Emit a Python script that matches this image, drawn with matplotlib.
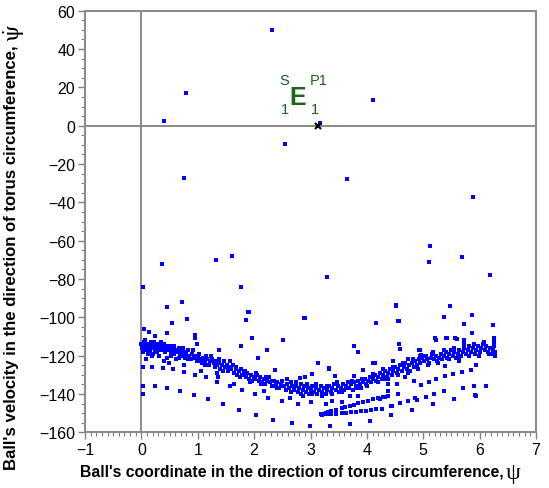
import numpy as np
import matplotlib
matplotlib.use("Agg")
import matplotlib.pyplot as plt
from matplotlib.ticker import MultipleLocator

plt.rcParams['font.family'] = ['Liberation Sans', 'DejaVu Sans']
plt.rcParams['mathtext.fontset'] = 'stix'

# dense band of the section
band = [
    (0.00, -114), (0.01, -116), (0.03, -115), (0.05, -113), (0.06, -117), (0.08, -115), (0.10, -114),
    (0.12, -116), (0.13, -118), (0.15, -115), (0.17, -113), (0.19, -116), (0.21, -119), (0.23, -115),
    (0.25, -117), (0.27, -114), (0.29, -116), (0.31, -120), (0.33, -115), (0.35, -117), (0.38, -116),
    (0.40, -114), (0.42, -118), (0.44, -116), (0.46, -121), (0.48, -117), (0.50, -115), (0.53, -118),
    (0.55, -116), (0.57, -119), (0.60, -117), (0.62, -122), (0.64, -118), (0.66, -116), (0.69, -119),
    (0.71, -117), (0.73, -120), (0.76, -118), (0.78, -121), (0.80, -119), (0.83, -117), (0.85, -120),
    (0.88, -122), (0.90, -119), (0.93, -121), (0.96, -120), (0.98, -123),
    (1.00, -121), (1.03, -119), (1.05, -122), (1.08, -124), (1.10, -121), (1.12, -123), (1.15, -120),
    (1.17, -122), (1.20, -125), (1.22, -123), (1.25, -122), (1.28, -124), (1.30, -126), (1.33, -123),
    (1.35, -125), (1.38, -124), (1.40, -127), (1.43, -125), (1.46, -123), (1.48, -126), (1.51, -125),
    (1.54, -128), (1.56, -126), (1.59, -127), (1.62, -125), (1.65, -129), (1.68, -127), (1.70, -130),
    (1.73, -128), (1.76, -127), (1.79, -130), (1.82, -129), (1.85, -131), (1.88, -129), (1.91, -132),
    (1.94, -130), (1.97, -133), (1.99, -131),
    (2.02, -132), (2.05, -130), (2.08, -133), (2.11, -131), (2.14, -134), (2.17, -132), (2.20, -135),
    (2.23, -133), (2.26, -131), (2.29, -134), (2.32, -136), (2.35, -133), (2.38, -135), (2.41, -134),
    (2.44, -137), (2.47, -135), (2.50, -133), (2.53, -136), (2.56, -138), (2.59, -135), (2.62, -137),
    (2.65, -134), (2.68, -136), (2.71, -138), (2.74, -136), (2.77, -139), (2.80, -137), (2.83, -135),
    (2.86, -138), (2.89, -136), (2.92, -139), (2.95, -137), (2.98, -140), (3.00, -138),
    (3.03, -136), (3.06, -139), (3.09, -137), (3.12, -140), (3.15, -138), (3.18, -136), (3.21, -139),
    (3.24, -137), (3.27, -140), (3.30, -138), (3.33, -136), (3.36, -139), (3.39, -137), (3.42, -135),
    (3.45, -138), (3.48, -136), (3.51, -139), (3.54, -137), (3.57, -135), (3.60, -138), (3.63, -136),
    (3.66, -134), (3.69, -137), (3.72, -135), (3.75, -138), (3.78, -134), (3.81, -136), (3.84, -133),
    (3.87, -135), (3.90, -137), (3.93, -134), (3.96, -132), (3.99, -135),
    (4.02, -133), (4.05, -131), (4.08, -134), (4.11, -132), (4.14, -130), (4.17, -133), (4.20, -131),
    (4.23, -129), (4.26, -132), (4.29, -130), (4.32, -128), (4.35, -131), (4.38, -129), (4.41, -127),
    (4.44, -130), (4.47, -128), (4.50, -126), (4.53, -129), (4.56, -127), (4.59, -125), (4.62, -128),
    (4.65, -126), (4.68, -124), (4.71, -127), (4.74, -125), (4.77, -128), (4.80, -124), (4.83, -126),
    (4.86, -123), (4.89, -125), (4.92, -122), (4.95, -124), (4.98, -121),
    (5.01, -123), (5.04, -120), (5.07, -122), (5.10, -124), (5.13, -121), (5.16, -119), (5.19, -122),
    (5.22, -120), (5.25, -123), (5.28, -121), (5.31, -119), (5.34, -122), (5.37, -120), (5.40, -118),
    (5.43, -121), (5.46, -119), (5.49, -117), (5.52, -120), (5.55, -118), (5.58, -121), (5.61, -119),
    (5.64, -117), (5.67, -120), (5.70, -118), (5.73, -116), (5.76, -119), (5.79, -117), (5.82, -115),
    (5.85, -118), (5.88, -116), (5.91, -119), (5.94, -117), (5.97, -115), (6.00, -118), (6.03, -116),
    (6.06, -114), (6.09, -117), (6.12, -115), (6.15, -118), (6.18, -116), (6.21, -119), (6.24, -117),
    (6.26, -115), (6.28, -118),
    # second layer, thickening the band
    (0.02, -118), (0.07, -112), (0.11, -119), (0.16, -117), (0.22, -113), (0.28, -118), (0.34, -113),
    (0.43, -115), (0.52, -120), (0.58, -115), (0.67, -121), (0.74, -116), (0.82, -122), (0.91, -117),
    (1.02, -123), (1.13, -125), (1.24, -120), (1.37, -122), (1.45, -128), (1.58, -123), (1.67, -126),
    (1.75, -131), (1.84, -128), (1.93, -134), (2.03, -129), (2.12, -135), (2.21, -131), (2.31, -133),
    (2.40, -137), (2.49, -136), (2.58, -132), (2.66, -139), (2.75, -134), (2.84, -140), (2.93, -135),
    (3.02, -140), (3.10, -135), (3.20, -141), (3.29, -136), (3.38, -140), (3.47, -134), (3.56, -139),
    (3.65, -137), (3.74, -133), (3.83, -137), (3.92, -132), (4.01, -136), (4.10, -130), (4.19, -134),
    (4.28, -127), (4.37, -132), (4.46, -126), (4.55, -130), (4.64, -124), (4.73, -129), (4.82, -122),
    (4.91, -127), (5.00, -120), (5.09, -125), (5.18, -118), (5.27, -124), (5.36, -117), (5.45, -122),
    (5.54, -116), (5.63, -121), (5.72, -114), (5.81, -120), (5.90, -114), (5.99, -120), (6.08, -113),
    (6.17, -119), (6.25, -113), (6.27, -120),
]

# scattered points around the band
scatter = [
    (0.55, -103), (0.81, -101), (0.04, -106), (0.14, -107.5), (0.24, -110), (0.46, -108), (0.95, -109),
    (0.95, -111), (0.98, -114), (0.09, -122), (0.18, -120), (0.19, -126), (0.03, -126), (0.38, -126.5),
    (0.41, -122.6), (0.49, -124), (0.56, -127), (0.75, -125), (0.75, -128.4), (0.95, -130), (1.06, -128),
    (1.15, -131), (1.34, -129), (1.34, -133.6), (0.03, -135.7), (0.02, -140), (0.25, -136), (0.46, -137),
    (0.69, -138.6), (0.93, -140.6), (1.18, -142.8),
    (1.90, -97), (1.86, -101.4), (1.37, -117), (1.76, -115), (1.97, -111), (2.06, -121.4), (2.22, -117),
    (2.52, -112), (2.37, -127.4), (2.88, -100.5), (1.36, -131.4), (1.57, -135.7), (1.65, -134.8),
    (1.78, -137.7), (2.02, -140), (2.18, -138.3), (2.25, -142.3), (2.37, -135.7), (2.50, -143.5),
    (2.63, -142.3), (2.78, -145.2), (1.45, -145.2), (1.74, -148.2), (2.04, -151), (2.34, -153.4),
    (2.67, -155.3),
    (4.17, -103), (3.77, -115.2), (3.85, -118.3), (3.14, -124), (3.33, -126.6), (3.43, -130.5),
    (3.03, -129.6), (2.90, -131.3), (2.81, -131.8), (3.93, -127.4), (4.15, -124), (4.11, -129.6),
    (3.77, -130.5), (2.87, -140.9), (3.01, -144.4), (3.28, -145.2), (3.39, -143.5), (3.55, -144.4),
    (3.70, -140.9), (3.84, -140.9), (4.23, -142.6), (2.99, -156.6), (3.35, -156.6), (3.70, -155.7),
    (4.06, -154.3),
    (4.52, -93.4), (4.56, -102), (5.48, -94.3), (5.37, -99.6), (5.86, -98.8), (5.73, -103.5), (5.86, -108.2),
    (4.57, -113.9), (4.58, -116.5), (5.23, -111.7), (5.42, -110.9), (5.59, -111.4), (5.73, -111.7),
    (4.93, -116.9), (4.95, -120.3), (4.46, -122.6), (4.73, -121.8), (5.38, -125.6), (5.63, -122.6),
    (5.69, -128.4), (5.84, -127.5), (5.94, -124.9), (4.31, -132), (4.38, -134.8), (4.37, -138.3),
    (4.54, -134.8), (4.67, -131.3), (4.84, -133), (4.96, -135.3), (5.11, -133.6), (5.23, -132),
    (5.38, -130.7), (5.53, -129.5), (4.56, -139.8), (4.33, -141.4), (4.43, -146.3), (4.42, -151),
    (4.80, -148.2), (5.17, -145.2), (5.54, -142.6), (5.71, -136.9), (5.90, -135.7), (5.91, -140.6),
    (5.04, -141.5), (4.89, -143.3), (5.19, -139.8), (5.37, -138.6), (6.23, -104), (6.26, -111),
    (5.20, -111), (5.40, -111), (5.57, -111), (6.12, -135.7), (5.93, -140.8), (5.55, -142.7),
    (4.95, -117), (4.96, -119.7), (2.22, -117), (1.38, -117.3), (3.78, -115), (3.32, -127), (4.11, -124),
]

# two converging chains near (3.2, -150)
fan = [
    (3.19, -150.5), (3.21, -150.8), (3.23, -150.2), (3.25, -150.6), (3.27, -149.9), (3.29, -150.4),
    (3.31, -149.6), (3.33, -150.3), (3.37, -148.8), (3.46, -148.2), (3.55, -147.5), (3.62, -146.8),
    (3.70, -146.1), (3.77, -145.5), (3.84, -144.9), (3.93, -144.2), (4.02, -143.5), (4.11, -142.8),
    (4.20, -142.1), (4.29, -141.5), (4.37, -140.9),
    (3.37, -150.5), (3.46, -150.2), (3.55, -150.0), (3.63, -149.8), (3.72, -149.6), (3.81, -149.3),
    (3.90, -149.1), (3.99, -148.7), (4.08, -148.4), (4.17, -148.1), (4.26, -147.9), (4.44, -146.1),
    (4.59, -144.9), (4.73, -143.8), (4.86, -142.3),
]

# isolated points far from the band
outliers = [
    (2.31, 50), (0.79, 17), (0.41, 2.6), (2.55, -9.4), (4.11, 13.4), (3.16, 1.5), (0.75, -27.3),
    (3.65, -27.7), (5.88, -37.4), (0.03, -84), (0.37, -72), (1.32, -70), (1.60, -68), (1.77, -84),
    (3.29, -79), (5.12, -63), (5.11, -71), (5.68, -68.5), (6.18, -78), (0.45, -94.5), (0.72, -92),
    (1.91, -97), (2.90, -100.5), (4.51, -94), (4.57, -102), (5.48, -94), (5.37, -100), (5.86, -99),
]

fixed_point = (3.14, -0.3)

fig = plt.figure(figsize=(5.49, 4.89), dpi=100)
ax = fig.add_axes([85 / 549, 1 - 433.3 / 489, 451 / 549, 421.6 / 489])

all_pts = band + scatter + fan + outliers
xs = [p[0] for p in all_pts]
ys = [p[1] for p in all_pts]
ax.plot(xs, ys, 's', color='#0000ff', markersize=2.2, markeredgewidth=0, zorder=3)
ax.plot([fixed_point[0]], [fixed_point[1]], 'x', color='black', markersize=4, markeredgewidth=1.5, zorder=4)

ax.axhline(0, color='#808080', lw=1.3, zorder=1)
ax.axvline(0, color='#808080', lw=1.3, zorder=1)

ax.set_xlim(-1, 7)
ax.set_ylim(-160, 60)
ax.xaxis.set_major_locator(MultipleLocator(1))
ax.xaxis.set_minor_locator(MultipleLocator(0.1))
ax.yaxis.set_major_locator(MultipleLocator(20))
ax.yaxis.set_minor_locator(MultipleLocator(5))
ax.tick_params(which='major', length=5, width=1, color='#808080', labelsize=11.5, pad=2)
ax.tick_params(which='minor', length=3, width=0.8, color='#808080')
for s in ax.spines.values():
    s.set_color('#8c8c8c')
    s.set_linewidth(1.5)

green = '#1a661a'
ax.text(2.78, 14.8, 'E', color=green, fontsize=18, fontweight='bold', ha='center', va='center')
ax.text(2.54, 24, 'S', color=green, fontsize=10.5, ha='center', va='center')
ax.text(3.15, 24, 'P1', color=green, fontsize=10.5, ha='center', va='center')
ax.text(2.54, 8.7, '1', color=green, fontsize=10.5, ha='center', va='center')
ax.text(3.07, 8.7, '1', color=green, fontsize=10.5, ha='center', va='center')

# axis labels: bold sans text followed by a larger upright serif psi
fig.canvas.draw()
renderer = fig.canvas.get_renderer()

xl = fig.text(80 / 549, 1 - 472 / 489, "Ball's coordinate in the direction of torus circumference,",
              ha='left', va='center', fontsize=11, fontweight='bold')
w = xl.get_window_extent(renderer).width
xl.set_fontsize(11 * 424 / w)
bb = xl.get_window_extent(renderer)
fig.text((bb.x1 + 2) / 549, 1 - 474 / 489, 'ψ', family='Liberation Serif',
         ha='left', va='center', fontsize=17)

yl = fig.text(12 / 549, 1 - 470 / 489, "Ball's velocity in the direction of torus circumference,",
              ha='center', va='bottom', rotation=90, fontsize=11, fontweight='bold')
h = yl.get_window_extent(renderer).height
yl.set_fontsize(11 * 430 / h)
bb = yl.get_window_extent(renderer)
fig.text(14 / 549, (bb.y1 + 3) / 489, r'$\dot{\mathrm{\psi}}$',
         ha='center', va='bottom', rotation=90, fontsize=17)

fig.savefig('out.png', dpi=100)
